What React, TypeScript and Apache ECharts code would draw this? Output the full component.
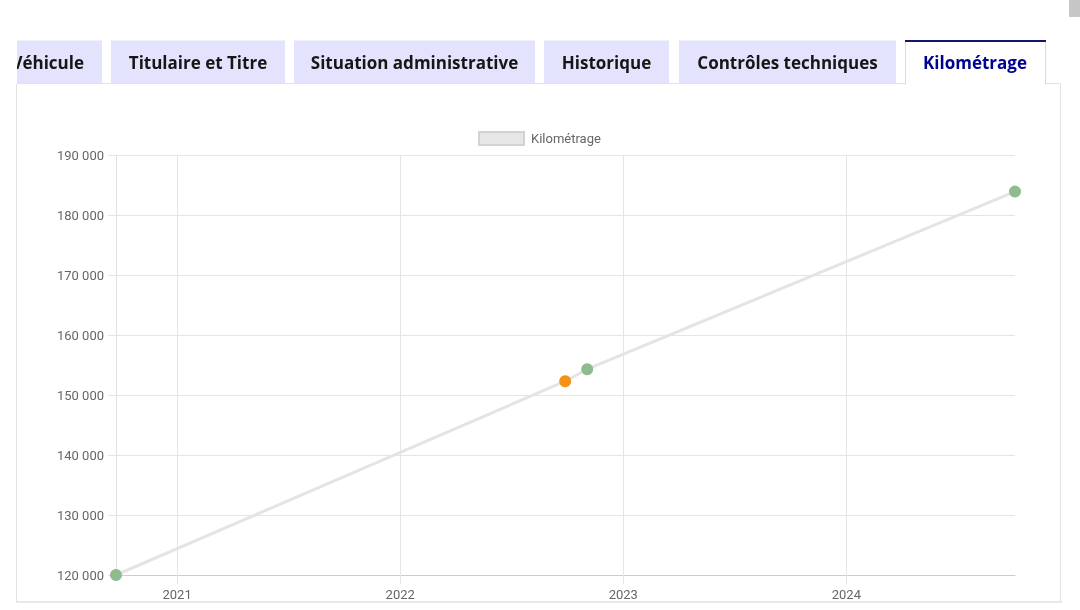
import React, { useEffect, useRef } from "react";
import * as echarts from "echarts";

const readingDates = ["2020-09-23", "2022-09-28", "2022-11-03", "2024-10-03"];
const mileageKm = [120000, 152300, 154300, 183900];
const readingKinds = ["normal", "alert", "normal", "normal"];
const seriesName = "Kilométrage";
const tabLabels = ["Véhicule", "Titulaire et Titre", "Situation administrative", "Historique", "Contrôles techniques", "Kilométrage"];
const yMin = 120000;
const yMax = 190000;
const yStep = 10000;

const kindColor: Record<string, string> = { normal: "#8fbc8f", alert: "#f39217" };

const fmtThousands = (v: number) => String(v).replace(/\B(?=(\d{3})+(?!\d))/g, " ");

export default function App() {
  const ref = useRef<HTMLDivElement>(null);
  useEffect(() => {
    if (!ref.current) return;
    const chart = echarts.init(ref.current, undefined, { renderer: "svg" });

    const tabBoxes = [
      [16, 102],
      [111, 285],
      [294, 535],
      [544, 669],
      [679, 896],
      [905, 1045],
    ];
    const tabFont = { fontFamily: "Open Sans", fontWeight: "bold" as const, fontSize: 17 };
    const graphics: any[] = [
      { type: "rect", z: -20, shape: { x: 1069, y: 0, width: 11, height: 17 }, style: { fill: "#c6c6c6" } },
      { type: "rect", z: -20, shape: { x: 16.5, y: 83.5, width: 1044, height: 518 }, style: { fill: "#fff", stroke: "#e2e2e2", lineWidth: 1 } },
      { type: "rect", z: -19, shape: { x: 16, y: 601, width: 1046, height: 2 }, style: { fill: "#e8e8e8" } },
    ];
    tabBoxes.forEach((b, i) => {
      const active = i === tabBoxes.length - 1;
      graphics.push({
        type: "rect",
        z: -18,
        shape: { x: b[0] + (active ? 0.5 : 0), y: 40.5, width: b[1] - b[0], height: active ? 44 : 42.5 },
        style: active ? { fill: "#fff", stroke: "#dcdcdc", lineWidth: 1 } : { fill: "#e3e3fd" },
      });
      if (active) {
        graphics.push({ type: "rect", z: -17, shape: { x: b[0], y: 40, width: b[1] - b[0] + 1, height: 2 }, style: { fill: "#14146e" } });
        graphics.push({ type: "rect", z: -17, shape: { x: b[0] + 1, y: 83, width: b[1] - b[0] - 1, height: 2 }, style: { fill: "#fff" } });
      }
      graphics.push({
        type: "text",
        z: -16,
        x: i === 0 ? 84 : (b[0] + b[1]) / 2,
        y: 62,
        style: {
          text: tabLabels[i],
          ...tabFont,
          fill: active ? "#000091" : "#161616",
          textAlign: i === 0 ? "right" : "center",
          textVerticalAlign: "middle",
        },
      });
    });
    graphics.push({ type: "rect", z: -15, shape: { x: 0, y: 36, width: 17, height: 48 }, style: { fill: "#fff" } });

    const seriesData = readingDates.map((d, i) => ({
      value: [d, mileageKm[i]],
      itemStyle: { color: kindColor[readingKinds[i]] },
    }));

    chart.setOption({
      animation: false,
      textStyle: { fontFamily: "Roboto" },
      graphic: graphics,
      legend: {
        top: 131,
        left: 478,
        itemWidth: 45,
        itemHeight: 13,
        itemGap: 10,
        textStyle: { color: "#666", fontSize: 13, fontFamily: "Roboto", padding: [0, 0, 0, 2] },
        padding: 0,
        data: [
          {
            name: seriesName,
            icon: "rect",
            itemStyle: { color: "#e6e6e6", borderColor: "#d2d2d2", borderWidth: 2 },
          },
        ],
      },
      grid: { left: 116, right: 65, top: 155, bottom: 35, containLabel: false },
      xAxis: {
        type: "time",
        min: readingDates[0],
        max: readingDates[readingDates.length - 1],
        minInterval: 365 * 86400000,
        maxInterval: 366 * 86400000,
        axisLine: { show: true, lineStyle: { color: "#cccccc" } },
        axisTick: { show: true, length: 9, lineStyle: { color: "#e5e5e5" } },
        splitLine: { show: true, showMinLine: false, showMaxLine: false, lineStyle: { color: "#e5e5e5" } },
        axisLabel: { formatter: "{yyyy}", color: "#666", fontSize: 13, margin: 13, showMinLabel: false, showMaxLabel: false },
      },
      yAxis: {
        type: "value",
        min: yMin,
        max: yMax,
        interval: yStep,
        axisLine: { show: true, lineStyle: { color: "#e0e0e0" } },
        axisTick: { show: true, length: 8, lineStyle: { color: "#e5e5e5" } },
        splitLine: { show: true, lineStyle: { color: "#e5e5e5" } },
        axisLabel: { formatter: (v: number) => fmtThousands(v), color: "#666", fontSize: 13, margin: 12 },
      },
      series: [
        {
          name: seriesName,
          type: "line",
          data: seriesData,
          symbol: "circle",
          symbolSize: 12,
          clip: false,
          lineStyle: { color: "#e4e4e4", width: 3 },
          itemStyle: { color: "#8fbc8f" },
          z: 3,
        },
      ],
    });
    return () => chart.dispose();
  }, []);
  return <div ref={ref} style={{ position: "fixed", left: 0, top: 0, width: 1080, height: 610 }} />;
}
